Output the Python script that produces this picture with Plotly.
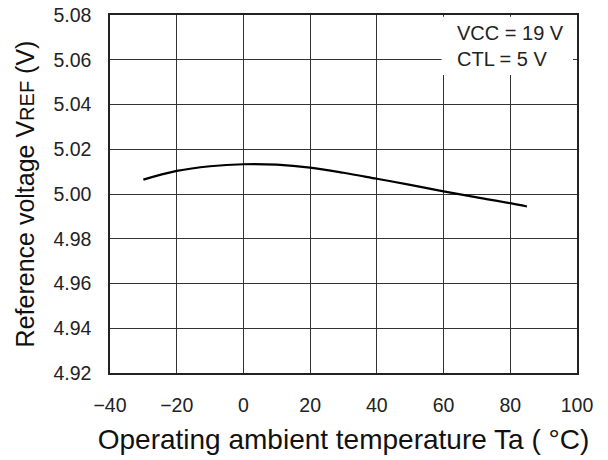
import plotly.graph_objects as go

temp_c = [-30, -20, -10, 0, 10, 20, 30, 40, 50, 60, 70, 80, 85]
vref_v = [5.0064, 5.0103, 5.0124, 5.0133, 5.0131, 5.0118, 5.0095, 5.0068, 5.0041, 5.0012, 4.9985, 4.9959, 4.9944]

x_ticks = [-40, -20, 0, 20, 40, 60, 80, 100]
x_tick_text = ["\u221240", "\u221220", "0", "20", "40", "60", "80", "100"]
y_ticks = [4.92, 4.94, 4.96, 4.98, 5.00, 5.02, 5.04, 5.06, 5.08]
y_tick_text = ["4.92", "4.94", "4.96", "4.98", "5.00", "5.02", "5.04", "5.06", "5.08"]

FONT = "Liberation Sans, Arial, sans-serif"

fig = go.Figure()
fig.add_trace(go.Scatter(
    x=temp_c, y=vref_v, mode="lines",
    line=dict(color="black", width=2.2, shape="spline", smoothing=1.0),
    showlegend=False, hoverinfo="skip",
))

fig.add_shape(type="rect", xref="x", yref="y", x0=59.4, x1=98.8, y0=5.0532, y1=5.0792,
              fillcolor="white", line=dict(width=0), layer="between")
fig.add_annotation(xref="x", yref="y", x=63.4, y=5.0660, xanchor="left", yanchor="middle",
                   text="VCC = 19 V<br>CTL = 5 V", showarrow=False, align="left",
                   font=dict(family=FONT, size=20, color="#222"))

fig.update_xaxes(
    range=[-40, 100], tickvals=x_ticks, ticktext=x_tick_text,
    showgrid=True, gridcolor="#333", gridwidth=1.3,
    showline=True, linecolor="#222", linewidth=1.5, mirror=True,
    zeroline=False, ticks="", ticklabelstandoff=14,
    tickfont=dict(family=FONT, size=19.5, color="#222"),
    title=dict(text="Operating ambient temperature Ta ( \u00b0C)", standoff=14,
               font=dict(family=FONT, size=28, color="#111")),
)
fig.update_yaxes(
    range=[4.92, 5.08], tickvals=y_ticks, ticktext=y_tick_text,
    showgrid=True, gridcolor="#333", gridwidth=1.3,
    showline=True, linecolor="#222", linewidth=1.5, mirror=True,
    zeroline=False, ticks="", ticklabelstandoff=13,
    tickfont=dict(family=FONT, size=19.5, color="#222"),
    title=dict(text="Reference voltage V<span style='font-size:20px'>REF</span> (V)", standoff=12,
               font=dict(family=FONT, size=25, color="#111")),
)

fig.update_layout(
    width=608, height=460,
    margin=dict(l=110, r=31, t=15, b=87, autoexpand=False),
    paper_bgcolor="white", plot_bgcolor="white",
)

fig.write_html("out.html")
